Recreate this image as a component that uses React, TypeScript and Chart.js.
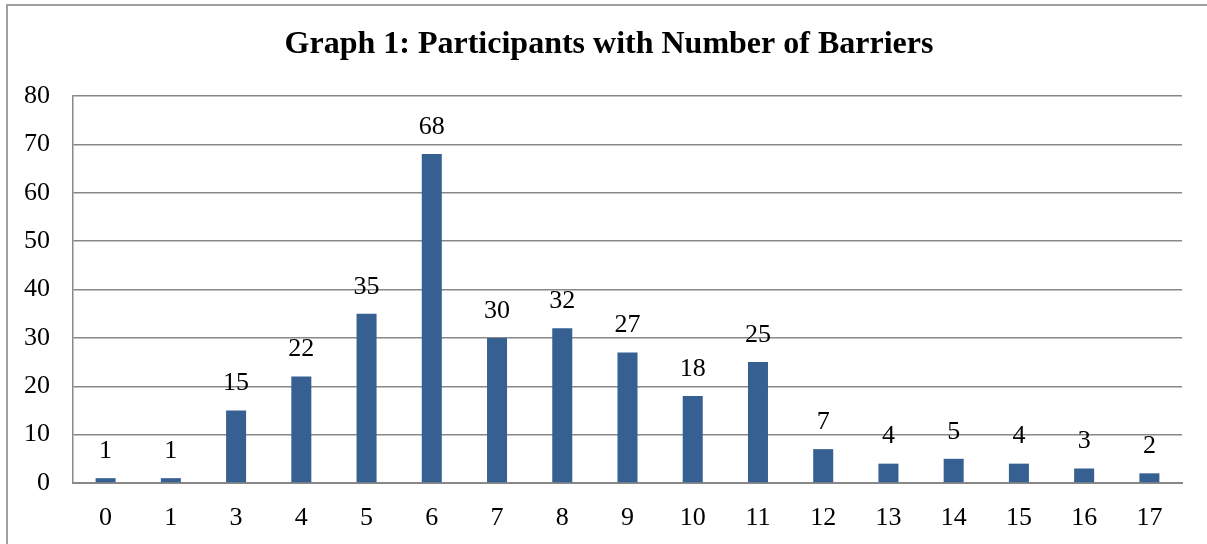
import React, { useEffect, useRef } from "react";
import { Chart, registerables } from "chart.js";

Chart.register(...registerables);

const categories = ["0", "1", "3", "4", "5", "6", "7", "8", "9", "10", "11", "12", "13", "14", "15", "16", "17"];
const participants = [1, 1, 15, 22, 35, 68, 30, 32, 27, 18, 25, 7, 4, 5, 4, 3, 2];
const titleText = "Graph 1: Participants with Number of Barriers";

const FONT = "'Liberation Serif', 'Times New Roman', serif";

const overlayPlugin = {
  id: "overlay",
  afterDatasetsDraw(chart: any) {
    const ctx = chart.ctx;
    const meta = chart.getDatasetMeta(0);
    ctx.save();
    ctx.fillStyle = "#000";
    ctx.font = `26px ${FONT}`;
    ctx.textAlign = "center";
    ctx.textBaseline = "middle";
    meta.data.forEach((bar: any, i: number) => {
      ctx.fillText(String(participants[i]), bar.x, bar.y - 27);
    });
    ctx.font = `bold 32px ${FONT}`;
    ctx.fillText(titleText, 609, 45);
    ctx.restore();
  },
};

export default function App() {
  const ref = useRef<HTMLCanvasElement | null>(null);
  useEffect(() => {
    const chart = new Chart(ref.current!, {
      type: "bar",
      data: {
        labels: categories,
        datasets: [
          {
            data: participants,
            backgroundColor: "#376092",
            borderWidth: 0,
            categoryPercentage: 1,
            barPercentage: 0.307,
          },
        ],
      },
      options: {
        animation: false,
        responsive: false,
        devicePixelRatio: 1,
        layout: { padding: { left: 0, right: 25, top: 96, bottom: 0 } },
        plugins: { legend: { display: false }, title: { display: false }, tooltip: { enabled: false } },
        scales: {
          x: {
            grid: { display: false, drawTicks: false },
            border: { display: true, color: "#888", width: 2 },
            ticks: { color: "#000", font: { family: FONT, size: 26 }, padding: 20, maxRotation: 0 },
            afterFit: (s: any) => {
              s.height = 61;
            },
          },
          y: {
            min: 0,
            max: 80,
            ticks: { stepSize: 10, color: "#000", font: { family: FONT, size: 26 }, padding: 23 },
            grid: { color: "#888", lineWidth: 1.5, drawTicks: false },
            border: { display: true, color: "#888", width: 1.5 },
            afterFit: (s: any) => {
              s.width = 73;
            },
          },
        },
      },
      plugins: [overlayPlugin],
    });
    return () => chart.destroy();
  }, []);
  return (
    <div style={{ position: "absolute", left: 0, top: 0, width: 1207, height: 544, background: "#fff", overflow: "hidden" }}>
      <div
        style={{
          position: "absolute",
          left: 6,
          top: 4,
          width: 1220,
          height: 560,
          border: "2px solid #a0a0a0",
          boxSizing: "border-box",
        }}
      />
      <canvas ref={ref} width={1207} height={544} style={{ position: "absolute", left: 0, top: 0 }} />
    </div>
  );
}
